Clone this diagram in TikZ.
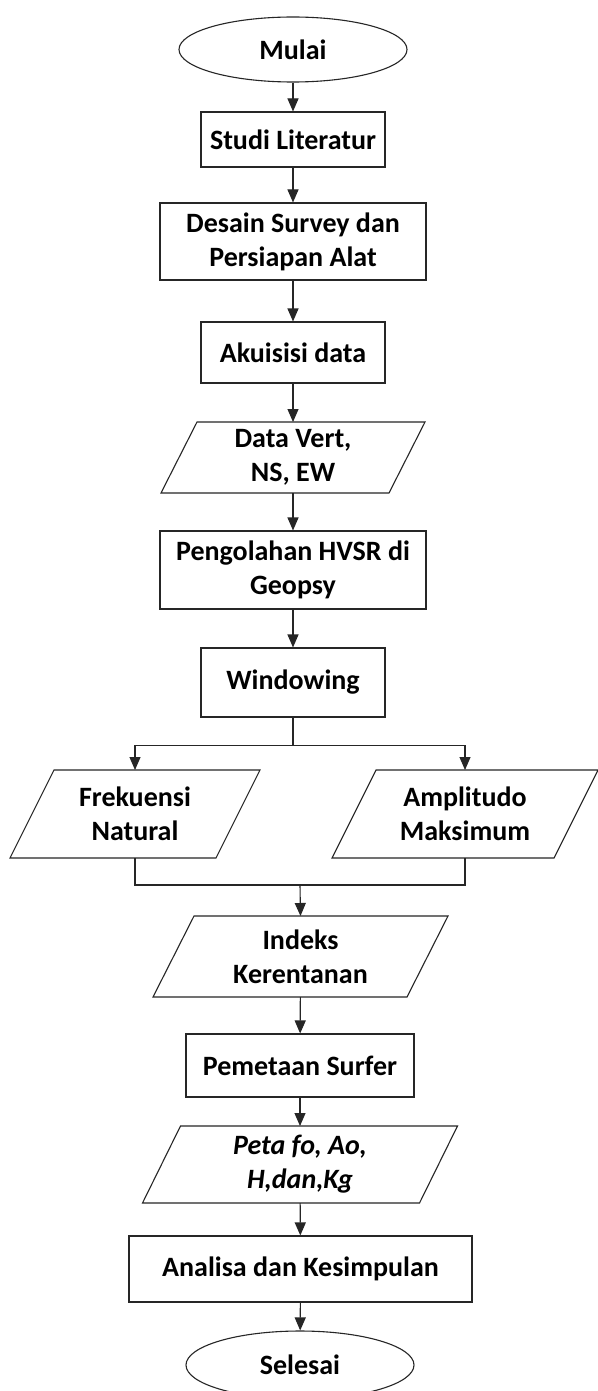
\documentclass[tikz,border=0pt]{standalone}
\usepackage{fontspec}
\setmainfont{Carlito}
\usetikzlibrary{shapes.geometric,arrows.meta}

\tikzset{
    txt/.style={align=center,font=\bfseries\fontsize{28}{34}\selectfont},
    box/.style={txt,draw=black!85,line width=1.1pt,inner sep=2pt},
    term/.style={box,ellipse},
    data/.style={txt,inner sep=0pt,outer sep=0pt},
    line/.style={draw=black!85,line width=1.1pt},
    arr/.style={line,-{Triangle[length=13pt,width=11pt]}}
}
% slanted frame round a data node: #1 node, #2 half of the slant
\newcommand{\dataframe}[2]{\draw[line] ([xshift=#2]#1.north west) -- ([xshift=#2]#1.north east) -- ([xshift=-#2]#1.south east) -- ([xshift=-#2]#1.south west) -- cycle;}

\begin{document}
\begin{tikzpicture}[x=1pt,y=-1pt]
                \useasboundingbox (0,0) rectangle (597,1391);
                \fill[white] (0,0) rectangle (597,1391);

                \node[term,minimum width=228,minimum height=65] (mulai) at (293,49.5) {Mulai};
                \node[box,minimum width=184,minimum height=55] (studi) at (293,139.5) {Studi Literatur};
                \node[box,minimum width=266,minimum height=77] (desain) at (293,241.5) {Desain Survey dan\\Persiapan Alat};
                \node[box,minimum width=184,minimum height=61] (akuisisi) at (293,352.5) {Akuisisi data};
                \node[data,minimum width=228,minimum height=71] (vert) at (293,457.5) {Data Vert,\\NS, EW};
                \dataframe{vert}{18}
                \node[box,minimum width=266,minimum height=78] (hvsr) at (293,570) {Pengolahan HVSR di\\Geopsy};
                \node[box,minimum width=184,minimum height=69] (window) at (293,682.5) {Windowing};

                \node[data,minimum width=206,minimum height=88] (frek) at (135,814) {Frekuensi\\Natural};
                \dataframe{frek}{22}
                \node[data,minimum width=222,minimum height=88] (ampl) at (465,814) {Amplitudo\\Maksimum};
                \dataframe{ampl}{22}

                \node[data,minimum width=254,minimum height=81] (indeks) at (300.5,956.5) {Indeks\\Kerentanan};
                \dataframe{indeks}{20.5}
                \node[box,minimum width=228,minimum height=63] (surfer) at (300,1065.5) {Pemetaan Surfer};
                \node[data,minimum width=277,minimum height=77] (peta) at (300,1164.5) {\itshape Peta fo, Ao,\\\itshape H,dan,Kg};
                \dataframe{peta}{19}
                \node[box,minimum width=343,minimum height=66] (analisa) at (300.5,1269) {Analisa dan Kesimpulan};
                \node[term,minimum width=228,minimum height=68] (selesai) at (300,1365) {Selesai};

                \draw[arr] (mulai) -- (studi);
                \draw[arr] (studi) -- (desain);
                \draw[arr] (desain) -- (akuisisi);
                \draw[arr] (akuisisi) -- (vert);
                \draw[arr] (vert) -- (hvsr);
                \draw[arr] (hvsr) -- (window);

                \draw[line] (window.south) -- ++(0,28) coordinate (split);
                \draw[arr] (split) -| (frek.north);
                \draw[arr] (split) -| (ampl.north);

                \coordinate (join) at (300,885);
                \draw[line] (frek.south) |- (join) -| (ampl.south);
                \draw[arr] (join) -- (indeks.north);

                \draw[arr] (indeks) -- (surfer);
                \draw[arr] (surfer) -- (peta);
                \draw[arr] (peta) -- (analisa);
                \draw[arr] (analisa) -- (selesai);
            \end{tikzpicture}
\end{document}
